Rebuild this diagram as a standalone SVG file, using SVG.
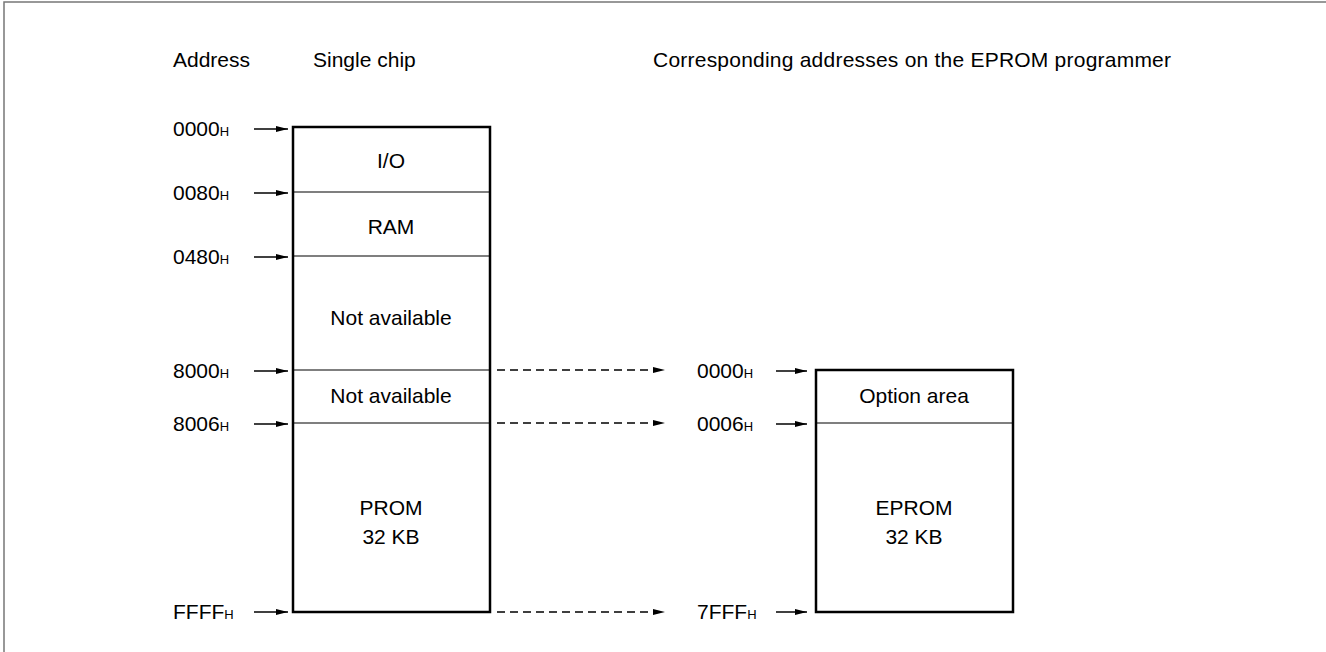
<svg xmlns="http://www.w3.org/2000/svg" width="1326" height="652" viewBox="0 0 1326 652">
<defs>
<marker id="ah" viewBox="0 0 12 6" refX="12" refY="3" markerWidth="12" markerHeight="6" markerUnits="userSpaceOnUse" orient="auto">
<path d="M0,0 L12,3 L0,6 Z" fill="#000"/>
</marker>
<style>
text{font-family:"Liberation Sans",Arial,sans-serif;font-size:21px;fill:#000}
.c{text-anchor:middle}
.s{font-size:13px}
.box{fill:#fff;stroke:#000;stroke-width:2.5}
.div{stroke:#000;stroke-width:1.2}
.arr{stroke:#000;stroke-width:1.5;marker-end:url(#ah)}
.dash{stroke:#000;stroke-width:1.3;stroke-dasharray:8,5;marker-end:url(#ah)}
</style>
</defs>
<rect width="1326" height="652" fill="#fff"/>
<path d="M4,652 V2 H1326" fill="none" stroke="#777" stroke-width="1.5"/>
<g id="headers">
<text x="173" y="67">Address</text>
<text x="313" y="67">Single chip</text>
<text x="653" y="67" textLength="518">Corresponding addresses on the EPROM programmer</text>
</g>
<g id="single-chip">
<rect class="box" x="293" y="127" width="197" height="485"/>
<line class="div" x1="293" y1="192" x2="490" y2="192"/>
<line class="div" x1="293" y1="256" x2="490" y2="256"/>
<line class="div" x1="293" y1="370" x2="490" y2="370"/>
<line class="div" x1="293" y1="423" x2="490" y2="423"/>
<text class="c" x="391" y="168">I/O</text>
<text class="c" x="391" y="234">RAM</text>
<text class="c" x="391" y="325">Not available</text>
<text class="c" x="391" y="403">Not available</text>
<text class="c" x="391" y="515">PROM</text>
<text class="c" x="391" y="544">32 KB</text>
</g>
<g id="eprom">
<rect class="box" x="816" y="370" width="197" height="242"/>
<line class="div" x1="816" y1="423" x2="1013" y2="423"/>
<text class="c" x="914" y="403">Option area</text>
<text class="c" x="914" y="515">EPROM</text>
<text class="c" x="914" y="544">32 KB</text>
</g>
<g id="addresses-left">
<text x="173" y="136">0000<tspan class="s">H</tspan></text>
<text x="173" y="200">0080<tspan class="s">H</tspan></text>
<text x="173" y="264">0480<tspan class="s">H</tspan></text>
<text x="173" y="378">8000<tspan class="s">H</tspan></text>
<text x="173" y="431">8006<tspan class="s">H</tspan></text>
<text x="173" y="619">FFFF<tspan class="s">H</tspan></text>
</g>
<g id="addresses-right">
<text x="697" y="378">0000<tspan class="s">H</tspan></text>
<text x="697" y="431">0006<tspan class="s">H</tspan></text>
<text x="697" y="619">7FFF<tspan class="s">H</tspan></text>
</g>
<g id="connectors">
<line class="arr" x1="254" y1="129" x2="288" y2="129"/>
<line class="arr" x1="254" y1="193" x2="288" y2="193"/>
<line class="arr" x1="254" y1="257" x2="288" y2="257"/>
<line class="arr" x1="254" y1="371" x2="288" y2="371"/>
<line class="arr" x1="254" y1="424" x2="288" y2="424"/>
<line class="arr" x1="254" y1="612" x2="288" y2="612"/>
<line class="arr" x1="776" y1="371" x2="807" y2="371"/>
<line class="arr" x1="776" y1="424" x2="807" y2="424"/>
<line class="arr" x1="776" y1="612" x2="807" y2="612"/>
<line class="dash" x1="497" y1="370" x2="665" y2="370"/>
<line class="dash" x1="497" y1="423" x2="665" y2="423"/>
<line class="dash" x1="497" y1="612" x2="665" y2="612"/>
</g>
</svg>
